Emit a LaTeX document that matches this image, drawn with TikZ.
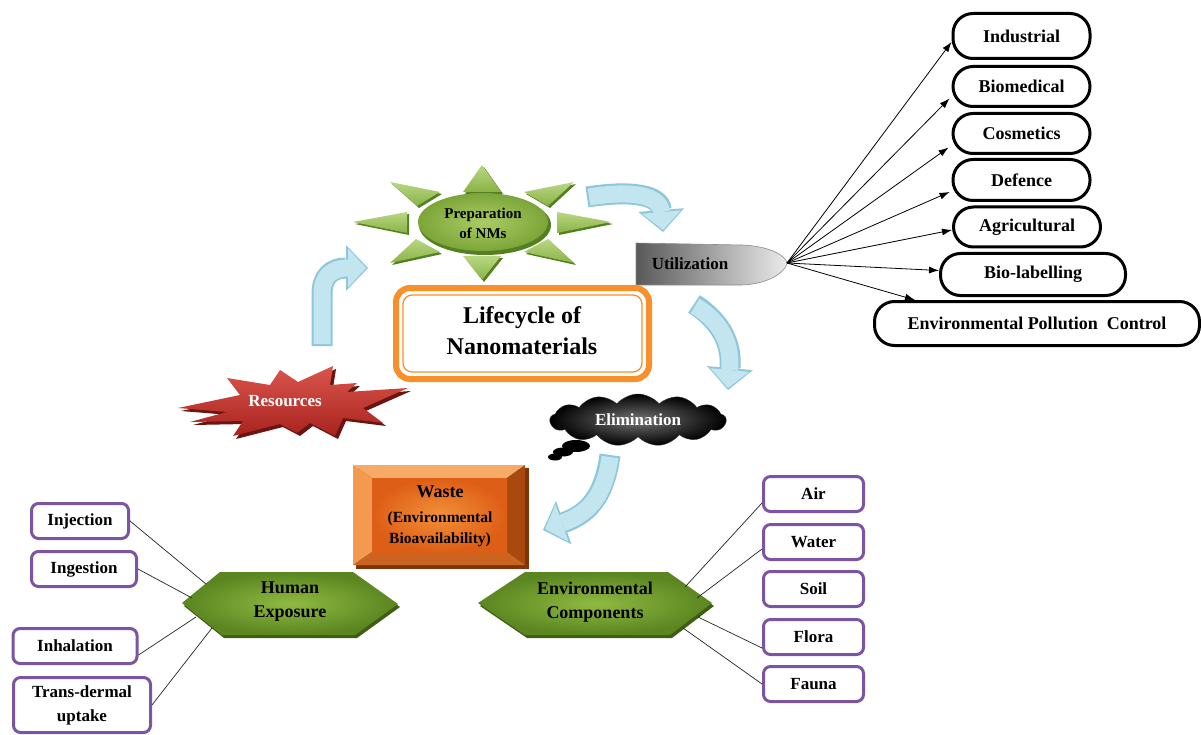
\documentclass[tikz,border=0pt]{standalone}
\usepackage{fontspec}
\setmainfont{Liberation Serif}
\usetikzlibrary{arrows.meta,shapes.symbols}
\definecolor{sunA}{HTML}{B9D783}
\definecolor{sunB}{HTML}{8AB346}
\definecolor{sunD}{HTML}{55801F}
\definecolor{ellA}{HTML}{ABCC66}
\definecolor{ellB}{HTML}{7CA538}
\definecolor{hexA}{HTML}{90BA42}
\definecolor{hexB}{HTML}{5A8520}
\definecolor{hexD}{HTML}{3D5E14}
\definecolor{arrblue}{HTML}{C2E5EF}
\definecolor{arredge}{HTML}{8EC7D9}
\definecolor{boxpurple}{HTML}{7B54A3}
\definecolor{lifeorange}{HTML}{F7902A}
\definecolor{resA}{HTML}{DA564C}
\definecolor{resB}{HTML}{A8231E}
\definecolor{resD}{HTML}{6A1510}
\definecolor{wTop}{HTML}{F7AA66}
\definecolor{wLeft}{HTML}{F39A50}
\definecolor{wRight}{HTML}{A84A10}
\definecolor{wBot}{HTML}{CB6420}
\definecolor{wFaceA}{HTML}{F39038}
\definecolor{wFaceB}{HTML}{DD5E16}
\definecolor{wShadow}{HTML}{7E3308}
\newcommand\sunray[6]{%
  \fill[sunD] (#1+2,#2+2) -- (#3+2,#4+2) -- (#5+2,#6+2) -- cycle;
  \shade[top color=sunA,bottom color=sunB] (#1,#2) -- (#3,#4) -- (#5,#6) -- cycle;}
\begin{document}
\begin{tikzpicture}[x=1pt,y=-1pt,
  pill/.style={draw=black,line width=3pt,rounded corners=20pt,fill=white,font=\fontsize{18}{22}\selectfont\bfseries,inner sep=0pt},
  pbox/.style={draw=boxpurple,line width=3pt,rounded corners=7pt,fill=white,font=\fontsize{17}{24}\selectfont\bfseries,align=center,inner sep=0pt},
  conn/.style={draw=black!85,line width=0.7pt},
  uarr/.style={draw=black,line width=0.8pt,-{Latex[length=10pt,width=7pt]}},
  barrout/.style={draw=arredge,line width=21pt,-{Triangle[length=22pt,width=46pt,line width=0pt]}},
  barrin/.style={draw=arrblue,line width=17pt,-{Triangle[length=18pt,width=39pt,line width=0pt]}},
]
\useasboundingbox[fill=white] (0,0) rectangle (1201,735);

% ---------- blue curved arrows ----------
\draw[barrout] (322,346) -- (322,294) .. controls (322,276) and (332,268) .. (368,268);
\draw[barrin]  (322,344) -- (322,294) .. controls (322,276) and (332,268) .. (366,268);
\draw[barrout] (587,197) .. controls (632,190) and (660,195) .. (663,232);
\draw[barrin]  (589,197) .. controls (632,190) and (660,195) .. (663,230);
\draw[barrout] (694,304) .. controls (722,322) and (732,345) .. (728,390);
\draw[barrin]  (695,306) .. controls (722,322) and (732,345) .. (728,388);
\draw[barrout] (610,455) .. controls (604,500) and (585,515) .. (543,530);
\draw[barrin]  (610,457) .. controls (604,500) and (585,515) .. (545,529);

% ---------- sun: Preparation of NMs ----------
\sunray{482}{165}{463}{192}{501}{192}
\sunray{482}{280}{463}{256}{501}{256}
\sunray{353}{222}{407}{212}{407}{233}
\sunray{611}{222}{557}{212}{557}{233}
\sunray{390}{182}{440}{192}{417}{206}
\sunray{574}{182}{524}{192}{548}{206}
\sunray{390}{263}{416}{239}{440}{252}
\sunray{574}{263}{548}{239}{524}{252}
\fill[sunD] (485,225) ellipse [x radius=66,y radius=30];
\shade[inner color=ellA,outer color=ellB] (483,222) ellipse [x radius=65,y radius=29];
\node[font=\fontsize{15}{20}\selectfont\bfseries,align=center] (prep) at (483,223) {Preparation\\of NMs};

% ---------- Utilization ----------
\shade[left color=black!65,right color=black!8,draw=black!45,line width=0.6pt]
  (636,243) -- (742,245) .. controls (770,246) and (786,256) .. (787,263)
  .. controls (786,271) and (770,284) .. (742,285) -- (636,285) -- cycle;
\coordinate (ufoc) at (787,263);
\node[font=\fontsize{17}{20}\selectfont\bfseries] (util) at (690,264) {Utilization};

% ---------- application list ----------
\node[pill,minimum width=137pt,minimum height=45pt] (ind) at (1021.5,36) {Industrial};
\node[pill,minimum width=137pt,minimum height=40pt] (bio) at (1021.5,86.5) {Biomedical};
\node[pill,minimum width=137pt,minimum height=40pt] (cos) at (1021.5,133.5) {Cosmetics};
\node[pill,minimum width=137pt,minimum height=41pt] (def) at (1021.5,180) {Defence};
\node[pill,minimum width=147pt,minimum height=40pt] (agr) at (1027,227) {Agricultural};
\node[pill,minimum width=185pt,minimum height=42pt] (lab) at (1033,274.5) {Bio-labelling};
\node[pill,minimum width=325pt,minimum height=44pt] (epc) at (1037,323.5) {Environmental Pollution\ \ Control};
\draw[uarr] (ufoc) -- ([yshift=-6pt]ind.west);
\draw[uarr] (ufoc) -- ([yshift=-12pt,xshift=-2pt]bio.west);
\draw[uarr] (ufoc) -- ([yshift=-14pt,xshift=-3pt]cos.west);
\draw[uarr] (ufoc) -- ([yshift=-12pt,xshift=-2pt]def.west);
\draw[uarr] (ufoc) -- ([yshift=-3pt]agr.west);
\draw[uarr] (ufoc) -- ([yshift=4pt]lab.west);
\draw[uarr] (ufoc) -- ([xshift=42pt]epc.north west);

% ---------- Lifecycle box ----------
\fill[white] (396,288) rectangle (649,379);
\draw[lifeorange,line width=6pt,rounded corners=14pt] (396,288) rectangle (649,379);
\draw[lifeorange,line width=1.3pt,rounded corners=9pt] (403,295) rectangle (642,372);
\node[font=\fontsize{24}{31}\selectfont\bfseries,align=center] (life) at (522,331) {Lifecycle of\\Nanomaterials};

% ---------- Resources star ----------
\fill[resD,shift={(3,3)}] (178,408) -- (240,395) -- (227,378) -- (270,385) -- (280,370) -- (298,382)
  -- (333,366) -- (330,385) -- (357,383) -- (347,392) -- (408,388) -- (363,408) -- (383,423)
  -- (343,418) -- (335,436) -- (310,423) -- (297,433) -- (280,424) -- (233,436) -- (243,421)
  -- (190,422) -- (227,412) -- cycle;
\shade[top color=resA,bottom color=resB] (178,408) -- (240,395) -- (227,378) -- (270,385) -- (280,370) -- (298,382)
  -- (333,366) -- (330,385) -- (357,383) -- (347,392) -- (408,388) -- (363,408) -- (383,423)
  -- (343,418) -- (335,436) -- (310,423) -- (297,433) -- (280,424) -- (233,436) -- (243,421)
  -- (190,422) -- (227,412) -- cycle;
\node[font=\fontsize{17}{20}\selectfont\bfseries,text=white] (res) at (285,401) {Resources};

% ---------- Elimination cloud ----------
\node[cloud,cloud puffs=13,cloud puff arc=100,aspect=3.2,minimum width=176pt,minimum height=52pt,
  inner sep=0pt,inner color=black!55,outer color=black,draw=black!80,
  font=\fontsize{17}{20}\selectfont\bfseries,text=white] (elim) at (638,420) {Elimination};
\fill[black] (576,446) ellipse [x radius=14,y radius=6];
\fill[black] (563,452) ellipse [x radius=10,y radius=4.5];
\fill[black] (555,457) ellipse [x radius=7,y radius=3.5];

% ---------- Waste box ----------
\fill[wShadow] (356,468) rectangle (529,569);
\fill[wTop] (353,465) -- (525,465) -- (507,478) -- (372,478) -- cycle;
\fill[wLeft] (353,465) -- (372,478) -- (372,552) -- (353,565) -- cycle;
\fill[wRight] (525,465) -- (525,565) -- (507,552) -- (507,478) -- cycle;
\fill[wBot] (353,565) -- (525,565) -- (507,552) -- (372,552) -- cycle;
\shade[inner color=wFaceA,outer color=wFaceB] (372,478) rectangle (507,552);
\node[align=center,font=\fontsize{15.5}{21}\selectfont\bfseries] (waste) at (440,516)
  {{\fontsize{18}{22}\selectfont Waste}\\[4pt](Environmental\\Bioavailability)};

% ---------- hexagons ----------
\fill[hexD] (184,606) -- (222,575) -- (355,575) -- (400,607) -- (357,638) -- (224,638) -- cycle;
\shade[inner color=hexA,outer color=hexB] (182,603) -- (220,572) -- (353,572) -- (398,604) -- (355,635) -- (222,635) -- cycle;
\node[font=\fontsize{18}{24}\selectfont\bfseries,align=center] (he) at (290,602) {Human\\Exposure};
\fill[hexD] (480,606) -- (527,575) -- (670,575) -- (714,606) -- (672,638) -- (527,638) -- cycle;
\shade[inner color=hexA,outer color=hexB] (478,603) -- (525,572) -- (668,572) -- (712,603) -- (670,635) -- (525,635) -- cycle;
\node[font=\fontsize{18}{24}\selectfont\bfseries,align=center] (ec) at (595,602) {Environmental\\Components};

% ---------- exposure routes ----------
\node[pbox,minimum width=97pt,minimum height=35pt] (inj) at (80,521) {Injection};
\node[pbox,minimum width=105pt,minimum height=35pt] (ing) at (84,569) {Ingestion};
\node[pbox,minimum width=124pt,minimum height=35pt] (inh) at (75,646) {Inhalation};
\node[pbox,minimum width=137pt,minimum height=55pt] (tra) at (82,705) {Trans-dermal\\uptake};
\coordinate (he1) at (206,584);
\coordinate (he2) at (192,598);
\coordinate (he3) at (196,617);
\coordinate (he4) at (212,628);
\draw[conn] (inj.east) -- (he1);
\draw[conn] (ing.east) -- (he2);
\draw[conn] ([yshift=-9pt]inh.east) -- (he3);
\draw[conn] (tra.east) -- (he4);

% ---------- environmental components ----------
\node[pbox,minimum width=100pt,minimum height=35pt] (air) at (813.5,494) {Air};
\node[pbox,minimum width=100pt,minimum height=35pt] (wat) at (813.5,542) {Water};
\node[pbox,minimum width=100pt,minimum height=35pt] (soi) at (813.5,589) {Soil};
\node[pbox,minimum width=100pt,minimum height=35pt] (flo) at (813.5,637) {Flora};
\node[pbox,minimum width=100pt,minimum height=35pt] (fau) at (813.5,684) {Fauna};
\coordinate (ec1) at (685,587);
\coordinate (ec2) at (697,598);
\coordinate (ec4) at (698,617);
\coordinate (ec5) at (683,628);
\draw[conn] ([yshift=-9pt]air.west) -- (ec1);
\draw[conn] ([yshift=-7pt]wat.west) -- (ec2);
\draw[conn] ([yshift=-11pt]flo.west) -- (ec4);
\draw[conn] (fau.west) -- (ec5);
\end{tikzpicture}
\end{document}
